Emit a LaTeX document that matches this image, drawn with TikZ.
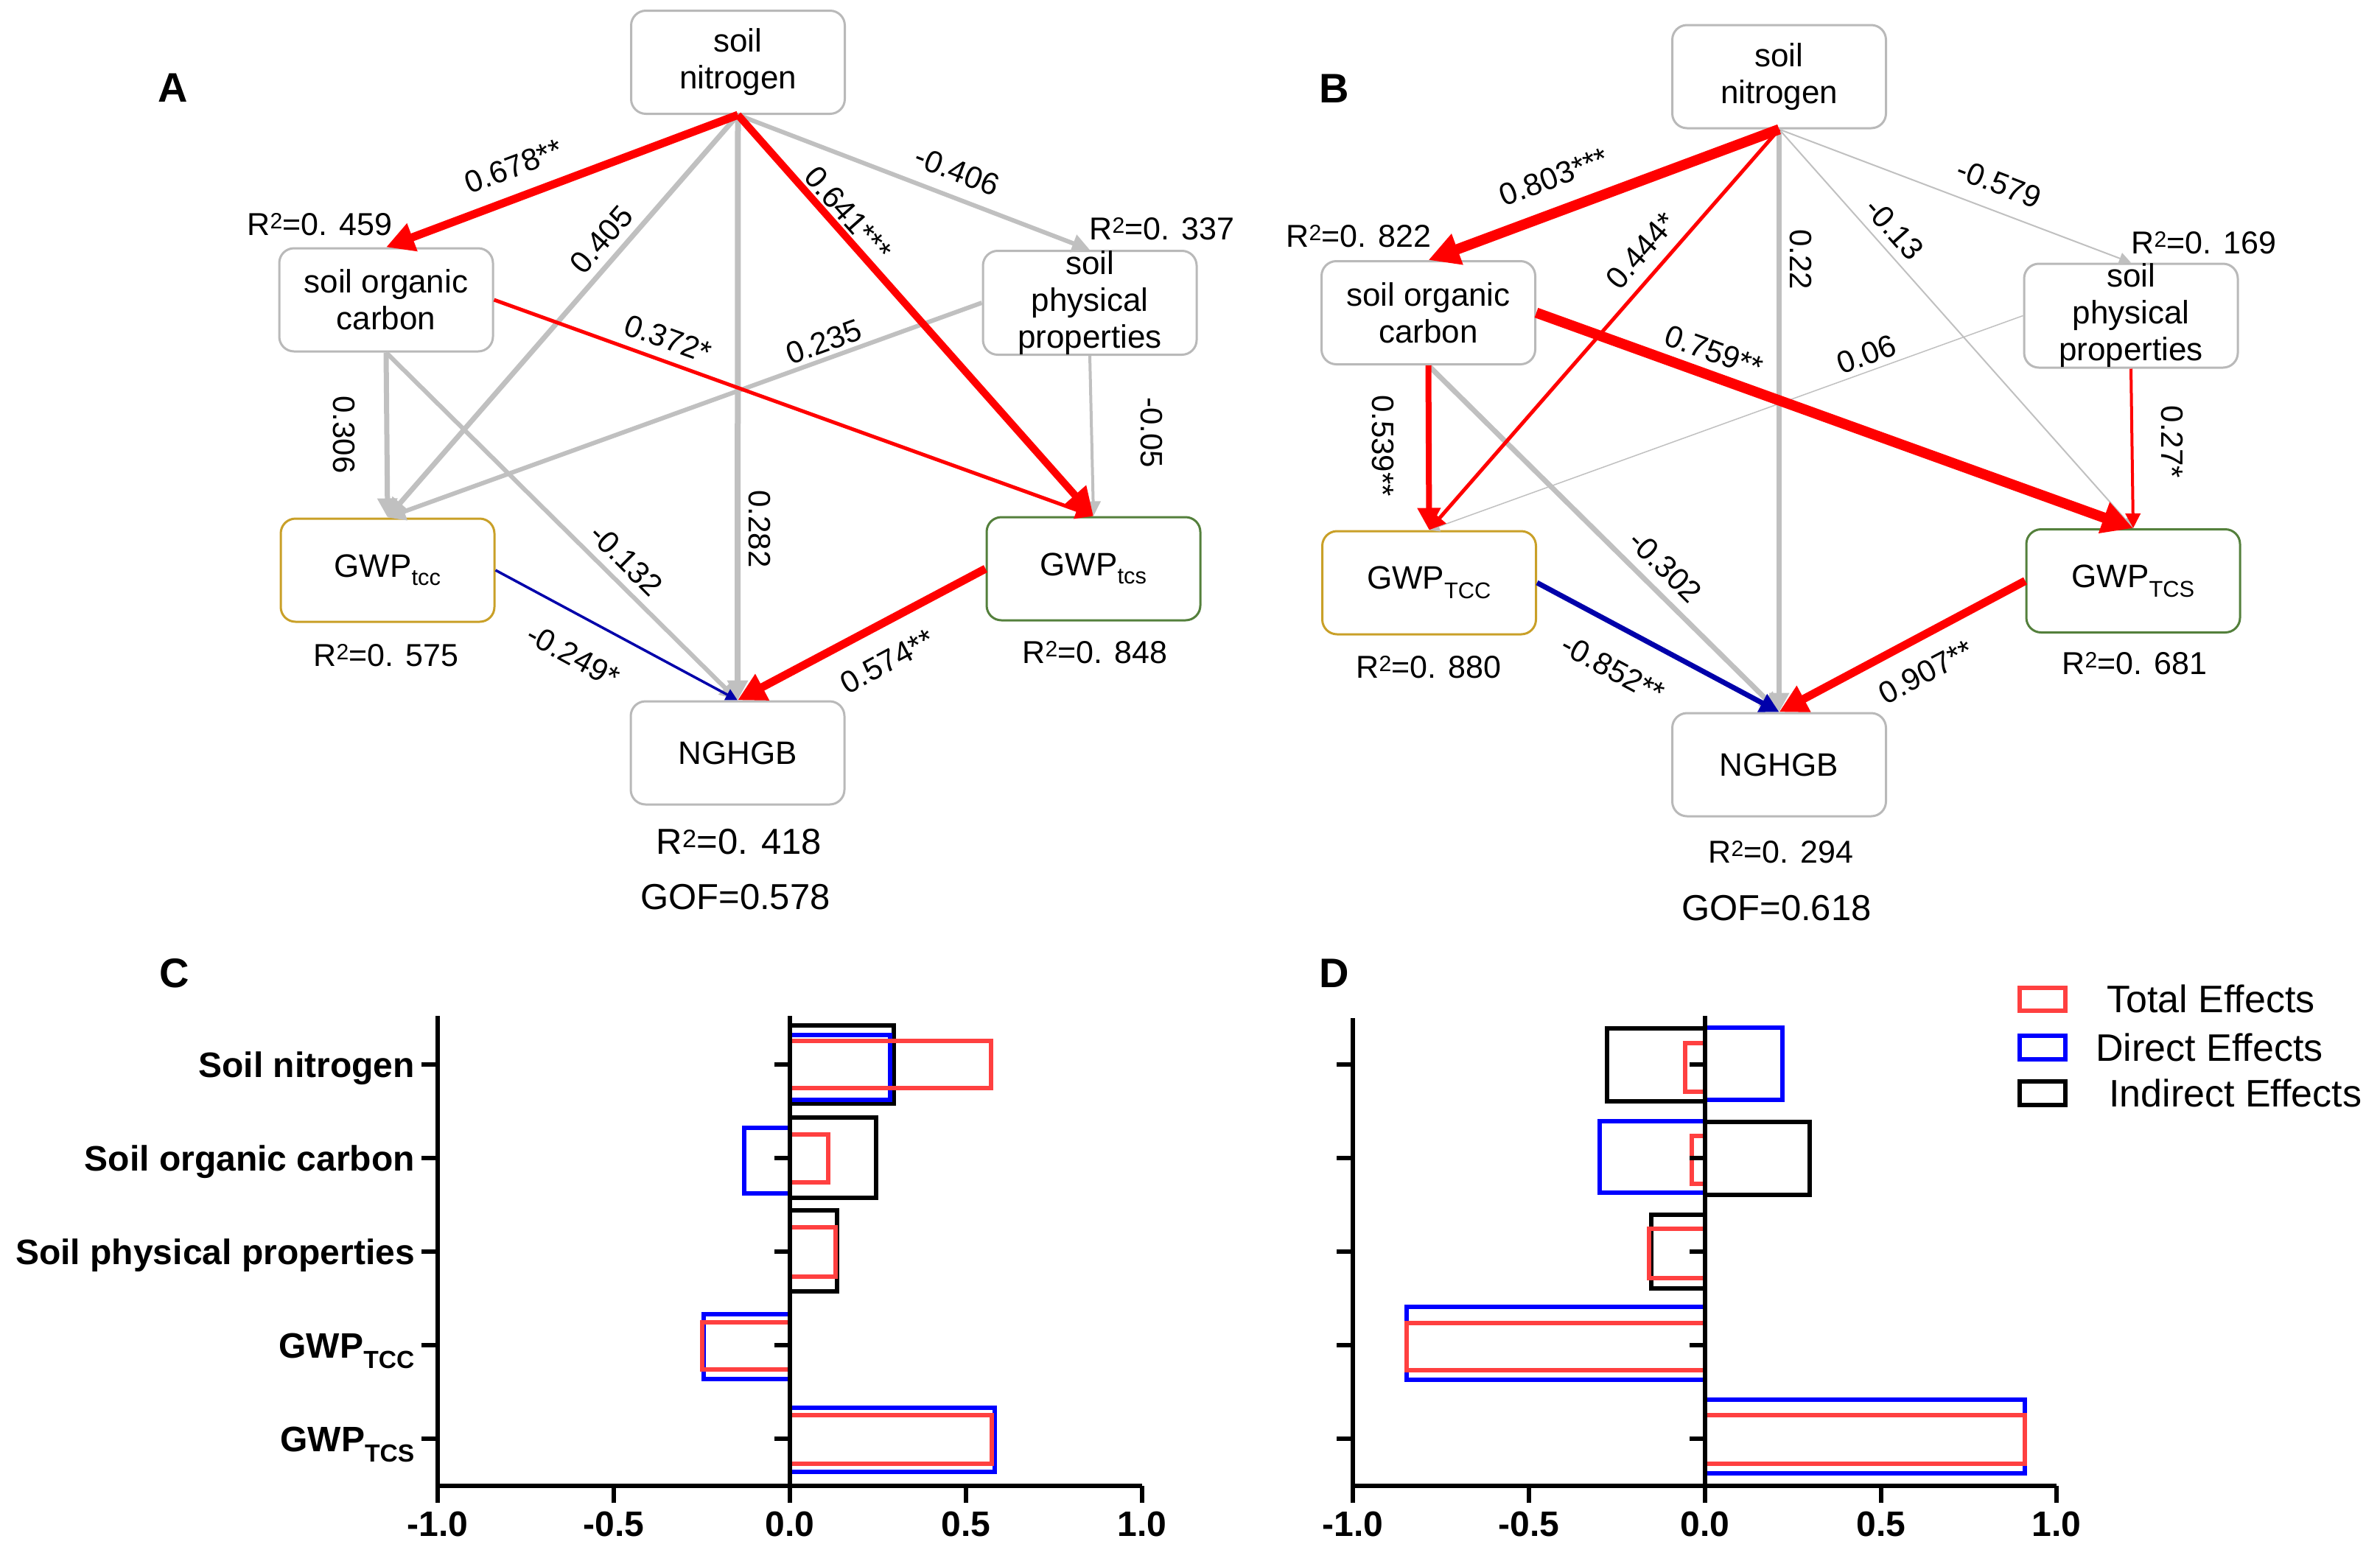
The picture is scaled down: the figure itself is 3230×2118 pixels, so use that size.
\documentclass[tikz,border=0pt]{standalone}
\usepackage{fontspec}
\setmainfont{Liberation Sans}
\usetikzlibrary{arrows.meta}
\definecolor{boxgray}{RGB}{185,185,185}
\definecolor{ggray}{RGB}{192,192,192}
\definecolor{goldc}{RGB}{201,160,40}
\definecolor{dgreen}{RGB}{84,128,60}
\definecolor{navy}{RGB}{0,0,170}
\definecolor{barred}{RGB}{255,64,64}
\definecolor{barblue}{RGB}{0,0,255}
\begin{document}
\begin{tikzpicture}[x=1pt,y=-1pt,
  box/.style={draw=boxgray, line width=3pt, rounded corners=20pt, fill=white,
    minimum width=290pt, minimum height=140pt, align=center, inner sep=0pt,
    font=\fontsize{44}{50}\selectfont},
  gbox/.style={box, draw=goldc},
  sbox/.style={box, draw=dgreen},
  lab/.style={font=\fontsize{42}{46}\selectfont, inner sep=0pt},
  rsq/.style={font=\fontsize{43}{46}\selectfont, inner sep=0pt},
  rsqb/.style={font=\fontsize{49}{52}\selectfont, inner sep=0pt},
  pan/.style={font=\fontsize{56}{60}\selectfont\bfseries, inner sep=0pt},
  ed/.style n args={3}{draw=#1, line width=#2, -{Triangle[length=#3,width=#3]}},
  bk/.style={draw=black, line width=6pt},
  bb/.style={draw=barblue, line width=6pt},
  br/.style={draw=barred, line width=6pt},
  axl/.style={draw=black, line width=6pt},
  cat/.style={font=\fontsize{48}{50}\selectfont\bfseries, anchor=base east, inner sep=0pt},
  tkl/.style={font=\fontsize{48}{50}\selectfont\bfseries, anchor=base, inner sep=0pt},
  leg/.style={font=\fontsize{52}{54}\selectfont, anchor=base west, inner sep=0pt}
]
\useasboundingbox (0,0) rectangle (3230,2118);

% ---------------- Panel A ----------------
\node[pan] (pA) at (235,119) {A};
\node[box] (AN) at (1001.5,84.5) {soil\\nitrogen};
\node[box] (Asoc) at (524,407) {soil organic\\carbon};
\node[box] (Aspp) at (1479,411) {soil\\physical\\properties};
\node[gbox] (Atcc) at (526,774) {GWP\textsubscript{tcc}};
\node[sbox] (Atcs) at (1484,772) {GWP\textsubscript{tcs}};
\node[box] (Angb) at (1001,1022) {NGHGB};

\draw[ed={ggray}{7pt}{26pt}] (AN.south) -- (Atcc.north);
\draw[ed={ggray}{8pt}{27pt}] (AN.south) -- (Angb.north);
\draw[ed={ggray}{6pt}{24pt}] (AN.south) -- (Aspp.north);
\draw[ed={ggray}{7pt}{26pt}] (Asoc.south) -- (Atcc.north);
\draw[ed={ggray}{6pt}{24pt}] (Asoc.south) -- (Angb.north);
\draw[ed={ggray}{6pt}{24pt}] (Aspp.west) -- (Atcc.north);
\draw[ed={ggray}{4pt}{20pt}] (Aspp.south) -- (Atcs.north);
\draw[ed={navy}{3.5pt}{16pt}] (Atcc.east) -- (Angb.north);
\draw[ed={red}{5pt}{24pt}] (Asoc.east) -- (Atcs.north);
\draw[ed={red}{10pt}{38pt}] (AN.south) -- (Atcs.north);
\draw[ed={red}{11pt}{38pt}] (AN.south) -- (Asoc.north);
\draw[ed={red}{11pt}{38pt}] (Atcs.west) -- (Angb.north);

\node[lab, rotate=20.7] (la1) at (697,226) {0.678**};
\node[lab, rotate=48.9] (la2) at (816,325) {0.405};
\node[lab, rotate=-21.2] (la3) at (1299,232) {-0.406};
\node[lab, rotate=-48.5] (la4) at (1151,290) {0.641***};
\node[lab, rotate=-19.8] (la5) at (907,460) {0.372*};
\node[lab, rotate=19.8] (la6) at (1118,464) {0.235};
\node[lab, rotate=-90] (la7) at (467,590) {0.306};
\node[lab, rotate=-90] (la8) at (1563,587) {-0.05};
\node[lab, rotate=-44.8] (la9) at (850,760) {-0.132};
\node[lab, rotate=-90] (la10) at (1031,718) {0.282};
\node[lab, rotate=-28.7] (la11) at (778,890) {-0.249*};
\node[lab, rotate=28.3] (la12) at (1204,898) {0.574**};

\node[rsq] (ra1) at (434,305) {R\textsuperscript{2}=0. 459};
\node[rsq] (ra2) at (1577,311) {R\textsuperscript{2}=0. 337};
\node[rsq] (ra3) at (524,890) {R\textsuperscript{2}=0. 575};
\node[rsq] (ra4) at (1486,886) {R\textsuperscript{2}=0. 848};
\node[rsqb] (ra5) at (1003,1143) {R\textsuperscript{2}=0. 418};
\node[rsqb] (ra6) at (998,1218) {GOF=0.578};

% ---------------- Panel B ----------------
\node[pan] (pB) at (1811,120) {B};
\node[box] (BN) at (2414.5,104) {soil\\nitrogen};
\node[box] (Bsoc) at (1938.5,424.5) {soil organic\\carbon};
\node[box] (Bspp) at (2892,428.5) {soil\\physical\\properties};
\node[gbox] (Btcc) at (1939.5,791) {GWP\textsubscript{TCC}};
\node[sbox] (Btcs) at (2895,788.5) {GWP\textsubscript{TCS}};
\node[box] (Bngb) at (2414.5,1038) {NGHGB};

\draw[ed={ggray}{2pt}{16pt}] (BN.south) -- (Btcs.north);
\draw[ed={ggray}{2pt}{16pt}] (BN.south) -- (Bspp.north);
\draw[ed={ggray}{1.5pt}{14pt}] (Bspp.west) -- (Btcc.north);
\draw[ed={ggray}{7pt}{26pt}] (BN.south) -- (Bngb.north);
\draw[ed={ggray}{7pt}{26pt}] (Bsoc.south) -- (Bngb.north);
\draw[ed={red}{4pt}{20pt}] (Bspp.south) -- (Btcs.north);
\draw[ed={red}{5pt}{22pt}] (BN.south) -- (Btcc.north);
\draw[ed={red}{8pt}{30pt}] (Bsoc.south) -- (Btcc.north);
\draw[ed={navy}{7pt}{26pt}] (Btcc.east) -- (Bngb.north);
\draw[ed={red}{14pt}{42pt}] (BN.south) -- (Bsoc.north);
\draw[ed={red}{14pt}{42pt}] (Bsoc.east) -- (Btcs.north);
\draw[ed={red}{11pt}{38pt}] (Btcs.west) -- (Bngb.north);

\node[lab, rotate=20.6] (lb1) at (2109,240) {0.803***};
\node[lab, rotate=48.9] (lb2) at (2227,340) {0.444*};
\node[lab, rotate=-90] (lb3) at (2444,352) {0.22};
\node[lab, rotate=-48.4] (lb4) at (2571,311) {-0.13};
\node[lab, rotate=-20.8] (lb5) at (2713,249) {-0.579};
\node[lab, rotate=-19.8] (lb6) at (2326,477) {0.759**};
\node[lab, rotate=19.8] (lb7) at (2533,481) {0.06};
\node[lab, rotate=-90] (lb8) at (1877,605) {0.539**};
\node[lab, rotate=-90] (lb9) at (2948,600) {0.27*};
\node[lab, rotate=-44.6] (lb10) at (2260,769) {-0.302};
\node[lab, rotate=-28.2] (lb11) at (2189,908) {-0.852**};
\node[lab, rotate=27.9] (lb12) at (2614,912) {0.907**};

\node[rsq] (rb1) at (1844,321) {R\textsuperscript{2}=0. 822};
\node[rsq] (rb2) at (2991,330) {R\textsuperscript{2}=0. 169};
\node[rsq] (rb3) at (1939,906) {R\textsuperscript{2}=0. 880};
\node[rsq] (rb4) at (2897,901) {R\textsuperscript{2}=0. 681};
\node[rsq] (rb5) at (2417,1157) {R\textsuperscript{2}=0. 294};
\node[rsqb] (rb6) at (2411,1233) {GOF=0.618};

% ---------------- Panel C ----------------
\node[pan] (pC) at (237,1321) {C};
% bars
\draw[bk] (1072,1392) rectangle (1213,1498);
\draw[bb] (1072,1405) rectangle (1208,1493);
\draw[br] (1072,1413) rectangle (1345,1477);
\draw[bk] (1072,1517) rectangle (1189,1626);
\draw[bb] (1072,1531) rectangle (1010,1620);
\draw[br] (1072,1540) rectangle (1124,1605);
\draw[bk] (1072,1643) rectangle (1136,1753);
\draw[br] (1072,1666) rectangle (1134,1733);
\draw[bb] (1072,1784) rectangle (955,1872);
\draw[br] (1072,1795) rectangle (953,1859);
\draw[bb] (1072,1911) rectangle (1350,1998);
\draw[br] (1072,1921) rectangle (1346,1987);
% axes
\draw[axl] (594,1379) -- (594,2017) -- (1550,2017);
\draw[axl] (1072,1379) -- (1072,2017);
\foreach \xx/\tt in {594/-1.0, 833/-0.5, 1072/0.0, 1311/0.5, 1550/1.0}{
  \draw[axl] (\xx,2017) -- (\xx,2040);
  \node[tkl] at (\xx,2085) {\tt};
}
\foreach \yy in {1445,1572,1699,1826,1953}{
  \draw[axl] (572,\yy) -- (594,\yy);
  \draw[axl] (1051,\yy) -- (1072,\yy);
}
\node[cat] (c1) at (563,1462) {Soil nitrogen};
\node[cat] (c2) at (563,1589) {Soil organic carbon};
\node[cat] (c3) at (563,1716) {Soil physical properties};
\node[cat] (c4) at (563,1843) {GWP\textsubscript{TCC}};
\node[cat] (c5) at (563,1970) {GWP\textsubscript{TCS}};

% ---------------- Panel D ----------------
\node[pan] (pD) at (1811,1321) {D};
\draw[bk] (2314,1396) rectangle (2181,1495);
\draw[bb] (2314,1395) rectangle (2419,1493);
\draw[br] (2314,1416) rectangle (2287,1482);
\draw[bk] (2314,1523) rectangle (2456,1622);
\draw[bb] (2314,1522) rectangle (2171,1619);
\draw[br] (2314,1542) rectangle (2296,1607);
\draw[bk] (2314,1649) rectangle (2241,1749);
\draw[br] (2314,1668) rectangle (2238,1735);
\draw[bb] (2314,1774) rectangle (1909,1873);
\draw[br] (2314,1796) rectangle (1909,1860);
\draw[bb] (2314,1900) rectangle (2748,2000);
\draw[br] (2314,1921) rectangle (2748,1987);
\draw[axl] (1836,1382) -- (1836,2017) -- (2791,2017);
\draw[axl] (2314,1379) -- (2314,2017);
\foreach \xx/\tt in {1836/-1.0, 2075/-0.5, 2314/0.0, 2553/0.5, 2791/1.0}{
  \draw[axl] (\xx,2017) -- (\xx,2040);
  \node[tkl] at (\xx,2085) {\tt};
}
\foreach \yy in {1445,1572,1699,1826,1953}{
  \draw[axl] (1814,\yy) -- (1836,\yy);
  \draw[axl] (2293,\yy) -- (2314,\yy);
}
% legend
\draw[br] (2741,1341) rectangle (2803,1372);
\draw[bb] (2741,1406) rectangle (2803,1438);
\draw[bk] (2741,1468) rectangle (2803,1500);
\node[leg] (lg1) at (2859,1374) {Total Effects};
\node[leg] (lg2) at (2844,1440) {Direct Effects};
\node[leg] (lg3) at (2862,1502) {Indirect Effects};
\end{tikzpicture}
\end{document}
